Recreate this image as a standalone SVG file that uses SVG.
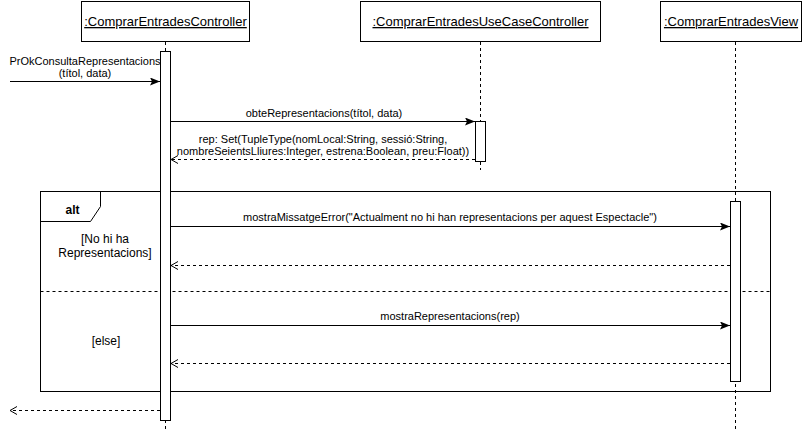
<svg xmlns="http://www.w3.org/2000/svg" width="812" height="433" viewBox="0 0 812 433">
<defs>
<marker id="filled" viewBox="0 0 10 8" refX="10" refY="4" markerWidth="10" markerHeight="8" markerUnits="userSpaceOnUse" orient="auto">
<path d="M0,0 L10,4 L0,8 L2,4 Z" fill="#000"/>
</marker>
<marker id="open" viewBox="0 0 10 10" refX="9" refY="5" markerWidth="10" markerHeight="10" markerUnits="userSpaceOnUse" orient="auto">
<path d="M2,1 L9,5 L2,9" fill="none" stroke="#000" stroke-width="1"/>
</marker>
<style>
.box{fill:#fff;stroke:#000;stroke-width:1}
.title{font-family:"Liberation Sans",Arial,sans-serif;font-size:13px;fill:#000;text-anchor:middle;text-decoration:underline}
.life{stroke:#000;stroke-width:1;stroke-dasharray:3 3;fill:none}
.act{fill:#fff;stroke:#000;stroke-width:1}
.msg{stroke:#000;stroke-width:1;fill:none}
.ret{stroke:#000;stroke-width:1;fill:none;stroke-dasharray:3 3}
.lbl{font-family:"Liberation Sans",Arial,sans-serif;font-size:11px;fill:#000;text-anchor:middle}
.guard{font-family:"Liberation Sans",Arial,sans-serif;font-size:12px;fill:#000;text-anchor:middle}
.frame{fill:none;stroke:#000;stroke-width:1}
</style>
</defs>
<rect width="812" height="433" fill="#fff"/>

<g id="lifelines">
<line class="life" x1="165.5" y1="42" x2="165.5" y2="430"/>
<line class="life" x1="480.5" y1="42" x2="480.5" y2="170"/>
<line class="life" x1="735.5" y1="42" x2="735.5" y2="430"/>
</g>

<g id="frame-alt">
<rect class="frame" x="40.5" y="191.5" width="730" height="200"/>
<path class="frame" d="M40.5,221.5 H90.5 L100.5,206.5 V191.5"/>
<line class="ret" x1="40.5" y1="291.5" x2="770.5" y2="291.5"/>
<text class="guard" x="72.5" y="214" font-weight="bold">alt</text>
<text class="guard" x="105" y="243">[No hi ha</text>
<text class="guard" x="105" y="257">Representacions]</text>
<text class="guard" x="106" y="345">[else]</text>
</g>

<g id="node-controller">
<rect class="box" x="81.5" y="1.5" width="168" height="40"/>
<text class="title" x="165.5" y="26">:ComprarEntradesController</text>
<rect class="act" x="160.5" y="51.5" width="10" height="369"/>
</g>

<g id="node-usecase">
<rect class="box" x="360.5" y="1.5" width="240" height="40"/>
<text class="title" x="480.5" y="26">:ComprarEntradesUseCaseController</text>
<rect class="act" x="475.5" y="121.5" width="10" height="40"/>
</g>

<g id="node-view">
<rect class="box" x="660.5" y="1.5" width="141" height="40"/>
<text class="title" x="731" y="26">:ComprarEntradesView</text>
<rect class="act" x="730.5" y="201.5" width="10" height="180"/>
</g>

<g id="connectors">
<line class="msg" x1="10" y1="81.5" x2="160" y2="81.5" marker-end="url(#filled)"/>
<text class="lbl" x="85" y="65">PrOkConsultaRepresentacions</text>
<text class="lbl" x="85" y="77">(títol, data)</text>

<line class="msg" x1="171" y1="121.5" x2="475" y2="121.5" marker-end="url(#filled)"/>
<text class="lbl" x="324" y="117">obteRepresentacions(títol, data)</text>

<line class="ret" x1="475" y1="159.5" x2="171" y2="159.5" marker-end="url(#open)"/>
<text class="lbl" x="323" y="143">rep: Set(TupleType(nomLocal:String, sessió:String,</text>
<text class="lbl" x="323" y="155">nombreSeientsLliures:Integer, estrena:Boolean, preu:Float))</text>

<line class="msg" x1="171" y1="226.5" x2="730" y2="226.5" marker-end="url(#filled)"/>
<text class="lbl" x="450" y="221">mostraMissatgeError("Actualment no hi han representacions per aquest Espectacle")</text>

<line class="ret" x1="730" y1="265.5" x2="171" y2="265.5" marker-end="url(#open)"/>

<line class="msg" x1="171" y1="325.5" x2="730" y2="325.5" marker-end="url(#filled)"/>
<text class="lbl" x="450" y="320">mostraRepresentacions(rep)</text>

<line class="ret" x1="730" y1="363.5" x2="171" y2="363.5" marker-end="url(#open)"/>

<line class="ret" x1="160" y1="410.5" x2="10" y2="410.5" marker-end="url(#open)"/>
</g>
</svg>
